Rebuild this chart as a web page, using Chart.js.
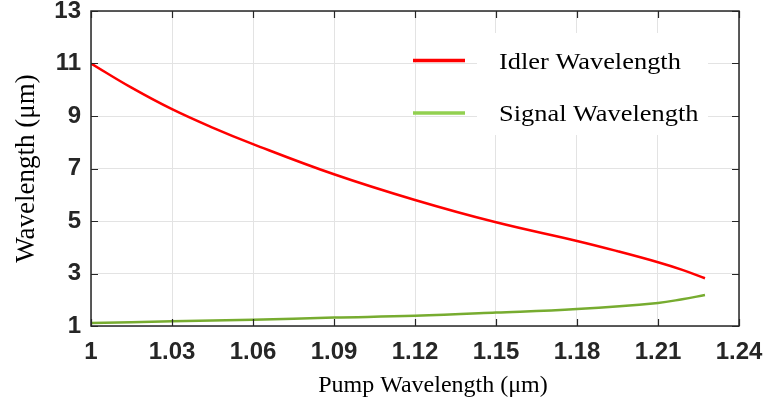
<!DOCTYPE html>
<html lang="en">
<head>
    <meta charset="UTF-8">
    <title>Pump vs Idler / Signal Wavelength</title>
    <script src="https://cdn.jsdelivr.net/npm/chart.js"></script>
    <style>
        html, body { margin: 0; padding: 0; background: #fff; }
        #wrap { width: 764px; height: 411px; }
    </style>
</head>
<body>
    <div id="wrap"><canvas id="wl-chart" width="764" height="411"></canvas></div>

    <script>
        // values
        const pumpIdler  = [1.00, 1.015, 1.03, 1.045, 1.06, 1.09, 1.12, 1.15, 1.18, 1.195, 1.21, 1.219, 1.2274];
        const idlerWl    = [11.00, 10.08, 9.26, 8.56, 7.93, 6.78, 5.80, 4.95, 4.24, 3.85, 3.43, 3.14, 2.82];
        const pumpSignal = [1.00, 1.03, 1.06, 1.09, 1.12, 1.15, 1.18, 1.21, 1.219, 1.2274];
        const signalWl   = [1.11, 1.18, 1.24, 1.32, 1.39, 1.51, 1.65, 1.88, 2.02, 2.18];
        const xTicks = [1, 1.03, 1.06, 1.09, 1.12, 1.15, 1.18, 1.21, 1.24];
        const yTicks = [1, 3, 5, 7, 9, 11, 13];
        const seriesNames = ['Idler Wavelength', 'Signal Wavelength'];

        const axisColor = '#262626';
        const serif = '"Liberation Serif", "Times New Roman", serif';
        const toPoints = (xs, ys) => xs.map((x, i) => ({ x: x, y: ys[i] }));

        // text stretched a little wider, like the exported figure
        function wideText(c, txt, x, y, sx) {
            c.save();
            c.translate(x, y);
            c.scale(sx, 1);
            c.fillText(txt, 0, 0);
            c.restore();
        }

        // box, inward ticks, legend, axis titles
        const decorations = {
            id: 'decorations',
            beforeDatasetsDraw(chart) {
                const c = chart.ctx;
                c.save();
                c.fillStyle = '#fff';
                c.fillRect(477, 33, 231, 102);
                c.restore();
            },
            afterDraw(chart) {
                const c = chart.ctx;
                const a = chart.chartArea;
                const xs = chart.scales.x, ys = chart.scales.y;
                c.save();
                c.strokeStyle = axisColor;
                c.lineWidth = 1.5;
                c.strokeRect(a.left, a.top, a.right - a.left, a.bottom - a.top);
                c.lineWidth = 1.2;
                c.beginPath();
                xTicks.forEach(v => {
                    const px = Math.round(xs.getPixelForValue(v)) + 0.5;
                    c.moveTo(px, a.bottom); c.lineTo(px, a.bottom - 7);
                    c.moveTo(px, a.top); c.lineTo(px, a.top + 7);
                });
                yTicks.forEach(v => {
                    const py = Math.round(ys.getPixelForValue(v)) + 0.5;
                    c.moveTo(a.left, py); c.lineTo(a.left + 7, py);
                    c.moveTo(a.right, py); c.lineTo(a.right - 7, py);
                });
                c.stroke();

                // legend
                const legendColors = ['#ff0000', '#92d050'];
                const rows = [60.5, 113];
                c.lineWidth = 3.5;
                rows.forEach((y, i) => {
                    c.strokeStyle = legendColors[i];
                    c.beginPath();
                    c.moveTo(413, y); c.lineTo(465, y);
                    c.stroke();
                });
                c.fillStyle = '#000';
                c.font = '24px ' + serif;
                c.textBaseline = 'alphabetic';
                c.textAlign = 'left';
                wideText(c, seriesNames[0], 499, rows[0] + 8, 1.1);
                wideText(c, seriesNames[1], 499, rows[1] + 8, 1.1);

                // axis titles
                c.textAlign = 'center';
                c.font = '24px ' + serif;
                wideText(c, 'Pump Wavelength (\u03bcm)', (a.left + a.right) / 2 + 18, 392, 1.0);
                c.translate(34, (a.top + a.bottom) / 2);
                c.rotate(-Math.PI / 2);
                c.font = '27px ' + serif;
                c.fillText('Wavelength (\u03bcm)', 0, 0);
                c.restore();
            }
        };

        const tickFont = { family: '"Liberation Sans", Arial, sans-serif', size: 24, weight: 'bold' };

        const ctx = document.getElementById('wl-chart').getContext('2d');
        const wlChart = new Chart(ctx, {
            type: 'line',
            data: {
                datasets: [{
                    label: seriesNames[0],
                    data: toPoints(pumpIdler, idlerWl),
                    borderColor: '#ff0000',
                    borderWidth: 2.5,
                    pointRadius: 0,
                    tension: 0.4,
                    fill: false
                }, {
                    label: seriesNames[1],
                    data: toPoints(pumpSignal, signalWl),
                    borderColor: '#77ac30',
                    borderWidth: 2.5,
                    pointRadius: 0,
                    tension: 0.4,
                    fill: false
                }]
            },
            options: {
                responsive: false,
                animation: false,
                layout: { padding: { top: 11, right: 25, left: 0, bottom: 0 } },
                plugins: { legend: { display: false }, tooltip: { enabled: false } },
                scales: {
                    x: {
                        type: 'linear',
                        min: 1,
                        max: 1.24,
                        afterBuildTicks: s => { s.ticks = xTicks.map(v => ({ value: v })); },
                        afterFit: s => { s.height = 85; s.paddingLeft = 0; s.paddingRight = 0; },
                        grid: { color: '#e3e3e3', lineWidth: 1, drawTicks: false },
                        border: { display: false },
                        ticks: {
                            padding: 12,
                            color: axisColor,
                            font: tickFont,
                            maxRotation: 0,
                            callback: v => String(Number(v.toFixed(2)))
                        }
                    },
                    y: {
                        min: 1,
                        max: 13,
                        afterBuildTicks: s => { s.ticks = yTicks.map(v => ({ value: v })); },
                        afterFit: s => { s.width = 91; s.paddingTop = 0; s.paddingBottom = 0; },
                        grid: { color: '#e3e3e3', lineWidth: 1, drawTicks: false },
                        border: { display: false },
                        ticks: {
                            padding: 10,
                            color: axisColor,
                            font: tickFont
                        }
                    }
                }
            },
            plugins: [decorations]
        });
    </script>
</body>
</html>
